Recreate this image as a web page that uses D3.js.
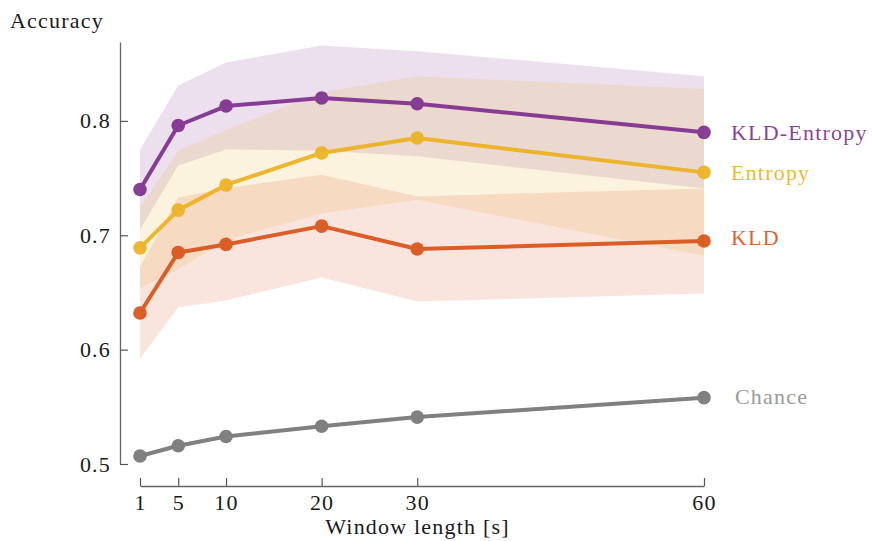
<!DOCTYPE html>
<html>
<head>
<meta charset="utf-8">
<script src="https://cdn.jsdelivr.net/npm/d3@7"></script>
<style>
  html, body { margin: 0; padding: 0; background: #fff; }
  svg { display: block; }
  text { font-family: "Liberation Serif", "DejaVu Serif", serif; letter-spacing: 1.2px; }
</style>
</head>
<body>
<svg id="chart" width="872" height="541"></svg>
<script>
// Window lengths in seconds
const windows = [1, 5, 10, 20, 30, 60];
const xTickValues = [1, 5, 10, 20, 30, 60];
const yTickValues = [0.5, 0.6, 0.7, 0.8];

// Mean accuracy and standard deviation per method
const seriesNames = ["KLD-Entropy", "Entropy", "KLD", "Chance"];
const kldEntropyMean = [0.740, 0.796, 0.813, 0.820, 0.815, 0.790];
const kldEntropySd   = [0.035, 0.035, 0.038, 0.046, 0.046, 0.049];
const entropyMean    = [0.689, 0.722, 0.744, 0.772, 0.785, 0.755];
const entropySd      = [0.035, 0.052, 0.048, 0.053, 0.054, 0.073];
const kldMean        = [0.632, 0.685, 0.692, 0.708, 0.688, 0.695];
const kldSd          = [0.040, 0.048, 0.049, 0.045, 0.046, 0.046];
const chanceMean     = [0.507, 0.516, 0.524, 0.533, 0.541, 0.558];

const colors = {
  "KLD-Entropy": "#7E2F8E",
  "Entropy": "#EDB120",
  "KLD": "#D95319",
  "Chance": "#808080"
};

const series = [
  { name: "KLD-Entropy", mean: kldEntropyMean, sd: kldEntropySd },
  { name: "Entropy", mean: entropyMean, sd: entropySd },
  { name: "KLD", mean: kldMean, sd: kldSd },
  { name: "Chance", mean: chanceMean, sd: null }
];

const FONT = "'Liberation Serif', 'DejaVu Serif', serif";
const svg = d3.select("#chart");

const x = d3.scaleLinear().domain([1, 60]).range([140, 704]);
const y = d3.scaleLinear().domain([0.5, 0.869]).range([464, 42]);

// Shaded ±1 SD bands
const area = d3.area()
  .x((d, i) => x(windows[i]))
  .y0(d => y(d[0]))
  .y1(d => y(d[1]));

const bands = svg.append("g");
series.filter(s => s.sd).forEach(s => {
  const pts = s.mean.map((m, i) => [m - s.sd[i], m + s.sd[i]]);
  bands.append("path")
    .datum(pts)
    .attr("d", area)
    .attr("fill", colors[s.name])
    .attr("fill-opacity", 0.15);
});

// Axes
const yAxis = d3.axisLeft(y)
  .tickValues(yTickValues)
  .tickFormat(d3.format(".1f"))
  .tickSizeInner(-8)
  .tickSizeOuter(0)
  .tickPadding(9);

const gy = svg.append("g").attr("transform", "translate(120,0)").call(yAxis);

const xAxis = d3.axisBottom(x)
  .tickValues(xTickValues)
  .tickSizeInner(-8)
  .tickSizeOuter(0)
  .tickPadding(8);

const gx = svg.append("g").attr("transform", "translate(0,486)").call(xAxis);

[gx, gy].forEach(g => {
  g.attr("font-family", null);
  g.select(".domain").attr("stroke", "#666").attr("stroke-width", 1.3);
  g.selectAll(".tick line").attr("stroke", "#555").attr("stroke-width", 1.2);
  g.selectAll(".tick text")
    .attr("fill", "#1a1a1a")
    .style("font-family", FONT)
    .style("font-size", "22px");
});

// Lines and markers
const line = d3.line()
  .x((d, i) => x(windows[i]))
  .y(d => y(d));

series.forEach(s => {
  const g = svg.append("g").attr("opacity", s.name === "Chance" ? 1 : 0.92);
  g.append("path")
    .datum(s.mean)
    .attr("d", line)
    .attr("fill", "none")
    .attr("stroke", colors[s.name])
    .attr("stroke-width", 4)
    .attr("stroke-linejoin", "round");
  g.selectAll("circle")
    .data(s.mean)
    .join("circle")
    .attr("cx", (d, i) => x(windows[i]))
    .attr("cy", d => y(d))
    .attr("r", 6.8)
    .attr("fill", colors[s.name]);
});

// Series labels at the right end of each line
const labelNudge = { "KLD-Entropy": 0, "Entropy": 0, "KLD": -4, "Chance": -1 };
const labelGap = { "KLD-Entropy": 27, "Entropy": 27, "KLD": 27, "Chance": 31 };
series.forEach(s => {
  const last = s.mean[s.mean.length - 1];
  svg.append("text")
    .attr("x", x(windows[windows.length - 1]) + labelGap[s.name])
    .attr("y", y(last) + labelNudge[s.name])
    .attr("dy", "0.35em")
    .attr("fill", s.name === "Chance" ? "#9a9a9a" : colors[s.name])
    .attr("fill-opacity", s.name === "Chance" ? 1 : 0.92)
    .style("font-family", FONT)
    .style("font-size", "22px")
    .text(s.name);
});

// Axis titles
svg.append("text")
  .attr("x", 10)
  .attr("y", 28)
  .attr("fill", "#1a1a1a")
  .style("font-family", FONT)
  .style("font-size", "22px")
  .text("Accuracy");

svg.append("text")
  .attr("x", (325 + 510) / 2)
  .attr("y", 534)
  .attr("text-anchor", "middle")
  .attr("fill", "#1a1a1a")
  .style("font-family", FONT)
  .style("font-size", "22px")
  .text("Window length [s]");
</script>
</body>
</html>
